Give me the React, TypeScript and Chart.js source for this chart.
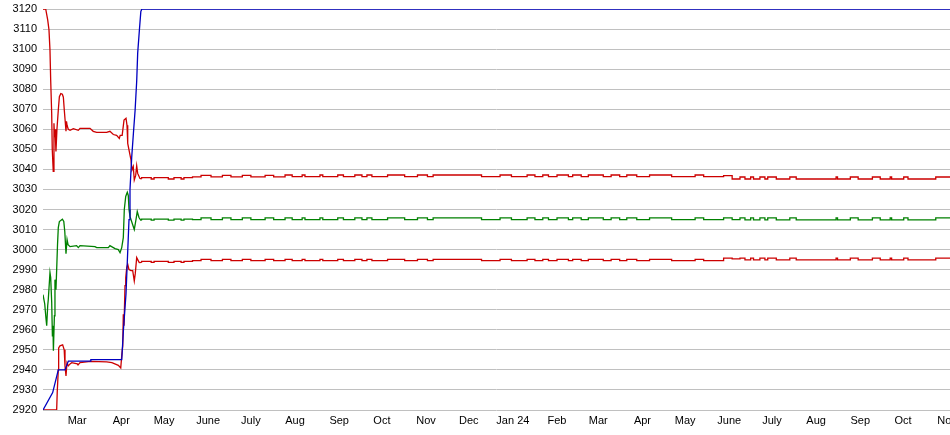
import React, { useEffect, useRef } from "react";
import { Chart, registerables } from "chart.js";

Chart.register(...registerables);

// Day offsets are counted from 2023-02-05 (day 0).
const monthLabels = ["Mar", "Apr", "May", "June", "July", "Aug", "Sep", "Oct", "Nov", "Dec", "Jan 24", "Feb", "Mar", "Apr", "May", "June", "July", "Aug", "Sep", "Oct", "Nov"];
const monthDays = [24, 55, 85, 116, 146, 177, 208, 238, 269, 299, 330, 361, 390, 421, 451, 482, 512, 543, 574, 604, 635];
const lastDay = 637;

const yMin = 2920;
const yMax = 3120;
const yStep = 10;

const blueLine: [number, number][] = [
  [0, 2920], [6.8, 2928.7], [10.75, 2940], [15.45, 2940], [17.8, 2944.4], [33.5, 2944.4], [33.6, 2945.1], [55.3, 2945.1],
  [56.5, 2960], [58.3, 2978], [60.4, 3015], [61.1, 3030], [62.3, 3046], [63.5, 3058], [64.7, 3069.6], [65.8, 3084],
  [66.5, 3098], [67.7, 3109.5], [68.7, 3118.7], [69.4, 3120], [637, 3120],
];

const upperEarly: [number, number][] = [
  [0, 3120], [1.9, 3120], [3.3, 3114.6], [4.2, 3109.6], [4.9, 3099.6], [5.4, 3084.6], [6.1, 3068], [6.5, 3050],
  [7.2, 3039], [7.7, 3063], [8.1, 3056], [8.5, 3060], [9.1, 3049], [9.8, 3060], [10.75, 3069.6], [11.5, 3076.3],
  [12.5, 3077.8], [13.6, 3077.5], [14.3, 3076], [14.95, 3069.6], [16.15, 3059], [16.5, 3064], [16.9, 3062],
  [17.75, 3060], [19, 3059.5], [21.3, 3060.3], [24.8, 3059.5], [26, 3060.5], [33, 3060.5], [35.3, 3059],
  [37.7, 3058.5], [44.7, 3058.5], [47, 3059], [49.4, 3057.4], [51.7, 3057], [53.6, 3055.5], [54.2, 3057],
  [55.6, 3057], [56.9, 3064.6], [58.3, 3065.5], [59, 3062], [59.5, 3053], [60.6, 3049], [61.8, 3044.7],
  [62.5, 3039.7], [63.4, 3041.4], [64.1, 3034.7], [65.1, 3037], [65.8, 3041.8], [66.5, 3038], [68.1, 3035.5],
  [69.3, 3035.3],
];

const midEarly: [number, number][] = [
  [0, 2977.5], [1.2, 2973], [2.1, 2965.5], [2.6, 2962], [3.3, 2972], [3.7, 2975], [4.9, 2988.5], [5.4, 2986],
  [6.1, 2974], [6.6, 2957], [7, 2962], [7.3, 2949.6], [8, 2967], [8.4, 2985], [9.1, 2980], [9.6, 2990],
  [10.2, 3002.5], [10.75, 3011], [11.5, 3014], [13.6, 3015.2], [14.6, 3014], [15.3, 3009], [16.15, 2998],
  [16.9, 3005], [17.6, 3002.5], [19, 3001.5], [23.6, 3002], [24.8, 3001], [26, 3002], [36.5, 3001.5],
  [37.7, 3001], [45.9, 3001], [47, 3002], [50.6, 3000.5], [52.9, 3000], [54.1, 2998.5], [55.3, 3001],
  [56.4, 3006], [57.1, 3020], [58.1, 3026.5], [59.2, 3028.6], [59.9, 3027], [60.4, 3020], [61.1, 3016.5],
  [62.7, 3013], [64.1, 3010], [65.3, 3015], [66.2, 3019], [67.4, 3016], [68.6, 3014.7], [69.3, 3014.7],
];

const lowerEarly: [number, number][] = [
  [0, 2920], [9.6, 2920], [10, 2929], [10.75, 2940], [11, 2951], [11.9, 2952], [13.8, 2952.5], [14.9, 2950],
  [15.45, 2942], [16.15, 2937], [16.85, 2943.6], [17.8, 2942], [19, 2943], [20.2, 2943.6], [24.1, 2943],
  [24.6, 2942.5], [26, 2943.6], [33.5, 2944.3], [44.7, 2944], [48.4, 2943.6], [52.9, 2942.3], [54.6, 2941],
  [55.3, 2947], [56, 2952], [56.4, 2967.7], [56.9, 2962], [57.6, 2982], [58.1, 2986], [58.8, 2991],
  [59.5, 2992.7], [60.4, 2990], [61.8, 2989.5], [63, 2989.5], [64.1, 2984.4], [64.8, 2988], [65.8, 2996],
  [66.5, 2995], [67.6, 2993.5], [69.3, 2993.6],
];

// Long, nearly flat stretch: one value per step (held until the next day listed).
const flatDays = [
  69.3, 76, 78, 88, 92, 97, 99, 105, 111, 118, 126, 132, 140, 146, 156, 162, 170, 175, 182, 184,
  194.5, 196.5, 207, 211, 219, 224, 227.5, 231, 242, 254, 263, 270, 274, 308, 321, 329, 340, 345.5, 351, 355,
  361, 369, 372, 378, 383, 393.5, 399, 405, 410, 417, 426, 441.5, 458, 464, 478, 484, 489.5, 493, 497, 499,
  503.5, 507, 509, 515, 524.5, 529, 557, 558, 567, 572.5, 582.5, 588, 595, 596, 604.5, 607.5, 627, 629, 637,
];

const upperFlat = [
  3035.3, 3035.9, 3035.2, 3035.9, 3035.2, 3035.9, 3035.2, 3035.9, 3036.3, 3037.0, 3036.3, 3037.0, 3036.3, 3037.0, 3036.3, 3037.0, 3036.3, 3037.2, 3036.4, 3037.2,
  3036.4, 3037.2, 3036.4, 3037.2, 3036.4, 3037.2, 3036.4, 3037.2, 3036.4, 3037.2, 3036.4, 3037.2, 3036.4, 3037.2, 3036.4, 3037.2, 3036.4, 3037.2, 3036.4, 3037.2,
  3036.4, 3037.2, 3036.4, 3037.2, 3036.4, 3037.2, 3036.4, 3037.2, 3036.4, 3037.2, 3036.4, 3037.2, 3036.4, 3037.2, 3036.4, 3036.9, 3035.2, 3036.2, 3035.2, 3036.2,
  3035.2, 3036.2, 3035.2, 3036.2, 3035.2, 3036.2, 3035.2, 3036.2, 3035.2, 3036.2, 3035.2, 3036.2, 3035.2, 3036.2, 3035.2, 3036.2, 3035.2, 3036.2, 3036.2,
];

const midFlat = [
  3014.7, 3015.2, 3014.7, 3015.2, 3014.7, 3015.2, 3014.7, 3015.2, 3015.0, 3015.8, 3015.0, 3015.8, 3015.0, 3015.8, 3015.0, 3015.8, 3015.0, 3015.8, 3015.0, 3015.8,
  3015.0, 3015.8, 3015.0, 3015.8, 3015.0, 3015.8, 3015.0, 3015.8, 3015.0, 3015.8, 3015.0, 3015.8, 3015.0, 3015.8, 3015.0, 3015.8, 3015.0, 3015.8, 3015.0, 3015.8,
  3015.0, 3015.8, 3015.0, 3015.8, 3015.0, 3015.8, 3015.0, 3015.8, 3015.0, 3015.8, 3015.0, 3015.8, 3015.0, 3015.8, 3015.0, 3015.8, 3015.0, 3015.8, 3014.8, 3015.8,
  3014.8, 3015.8, 3014.8, 3015.8, 3014.8, 3015.8, 3014.8, 3015.8, 3014.8, 3015.8, 3014.8, 3015.8, 3014.8, 3015.8, 3014.8, 3015.8, 3014.8, 3015.8, 3015.8,
];

const lowerFlat = [
  2993.6, 2994.1, 2993.6, 2994.1, 2993.6, 2994.1, 2993.6, 2994.1, 2994.5, 2995.1, 2994.5, 2995.1, 2994.5, 2995.1, 2994.5, 2995.1, 2994.5, 2995.1, 2994.5, 2995.1,
  2994.5, 2995.1, 2994.5, 2995.1, 2994.5, 2995.1, 2994.5, 2995.1, 2994.5, 2995.1, 2994.5, 2995.1, 2994.5, 2995.1, 2994.5, 2995.1, 2994.5, 2995.1, 2994.5, 2995.1,
  2994.5, 2995.1, 2994.5, 2995.1, 2994.5, 2995.1, 2994.5, 2995.1, 2994.5, 2995.1, 2994.5, 2995.1, 2994.5, 2995.1, 2994.5, 2995.7, 2995.4, 2995.7, 2994.9, 2995.7,
  2994.9, 2995.7, 2994.9, 2995.7, 2994.9, 2995.7, 2994.9, 2995.7, 2994.9, 2995.7, 2994.9, 2995.7, 2994.9, 2995.7, 2994.9, 2995.7, 2994.9, 2995.7, 2995.7,
];

const RED = "#cc0000";
const GREEN = "#008000";
const BLUE = "#0000c0";

const toPts = (pairs: [number, number][]) => pairs.map(([x, y]) => ({ x, y }));
const zipPts = (xs: number[], ys: number[]) => xs.map((x, i) => ({ x, y: ys[i] }));

const zeroPad = (scale: any) => {
  scale.paddingLeft = 0;
  scale.paddingRight = 0;
  scale.paddingTop = 0;
  scale.paddingBottom = 0;
};

export default function App() {
  const ref = useRef<HTMLCanvasElement | null>(null);

  useEffect(() => {
    if (!ref.current) return;
    const common = { borderWidth: 1.3, pointRadius: 0, fill: false, tension: 0 };
    const chart = new Chart(ref.current, {
      type: "line",
      data: {
        datasets: [
          { ...common, label: "blue", data: toPts(blueLine), borderColor: BLUE },
          { ...common, label: "upper", data: toPts(upperEarly), borderColor: RED },
          { ...common, label: "upperFlat", data: zipPts(flatDays, upperFlat), borderColor: RED, stepped: "after" },
          { ...common, label: "mid", data: toPts(midEarly), borderColor: GREEN },
          { ...common, label: "midFlat", data: zipPts(flatDays, midFlat), borderColor: GREEN, stepped: "after" },
          { ...common, label: "lower", data: toPts(lowerEarly), borderColor: RED },
          { ...common, label: "lowerFlat", data: zipPts(flatDays, lowerFlat), borderColor: RED, stepped: "after" },
        ] as any,
      },
      options: {
        animation: false,
        responsive: false,
        devicePixelRatio: 1,
        layout: { padding: { top: 9, right: 0, bottom: 0, left: 0 }, autoPadding: false } as any,
        plugins: { legend: { display: false }, tooltip: { enabled: false } },
        scales: {
          x: {
            type: "linear",
            min: 0,
            max: lastDay,
            grid: { display: false, drawTicks: false },
            border: { display: false },
            afterBuildTicks: (axis: any) => {
              axis.ticks = monthDays.map((v) => ({ value: v }));
            },
            afterFit: (scale: any) => {
              scale.height = 25;
              zeroPad(scale);
            },
            ticks: {
              autoSkip: false,
              maxRotation: 0,
              minRotation: 0,
              padding: 4,
              color: "#000",
              font: { family: "'Liberation Sans', Arial, sans-serif", size: 11 },
              callback: (_v: any, i: number) => monthLabels[i],
            },
          },
          y: {
            type: "linear",
            min: yMin,
            max: yMax,
            grid: { color: "#c0c0c0", lineWidth: 1, drawTicks: false },
            border: { display: false },
            afterFit: (scale: any) => {
              scale.width = 43;
              zeroPad(scale);
            },
            ticks: {
              stepSize: yStep,
              padding: 6,
              color: "#000",
              font: { family: "'Liberation Sans', Arial, sans-serif", size: 11 },
              callback: (v: any) => String(v),
            },
          },
        },
      } as any,
    });
    return () => chart.destroy();
  }, []);

  return (
    <div style={{ position: "fixed", left: 0, top: 0, width: 950, height: 435, background: "#fff" }}>
      <canvas ref={ref} width={950} height={435} style={{ display: "block", width: 950, height: 435 }} />
    </div>
  );
}
